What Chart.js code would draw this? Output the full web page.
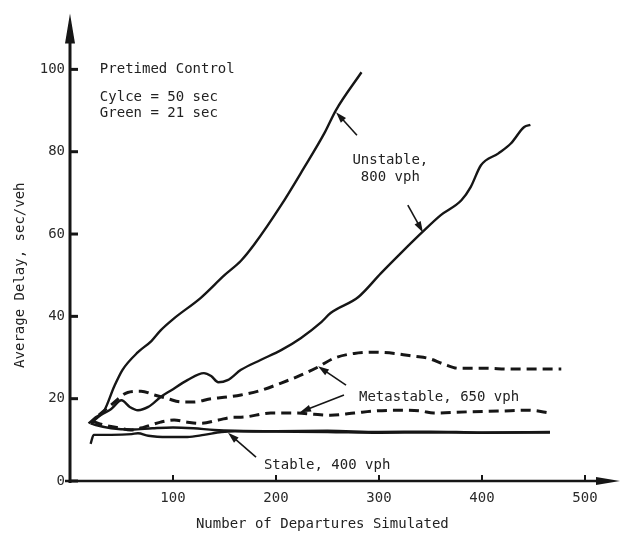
<!DOCTYPE html>
<html lang="en">
  <head>
    <meta charset="UTF-8">
    <title>Average Delay vs Number of Departures Simulated</title>
    <script src="https://cdn.jsdelivr.net/npm/chart.js"></script>
    <style>
      html, body { margin: 0; padding: 0; background: #fff; }
      #wrap { width: 625px; height: 534px; }
    </style>
  </head>
  <body>
    <div id="wrap"><canvas id="myChart"></canvas></div>
    <script>
      // Tick values
      const xTicks = [100, 200, 300, 400, 500];
      const yTicks = [0, 20, 40, 60, 80, 100];

      // Unstable, 800 vph (steep run)
      const unstableAX = [18, 25, 33, 43, 51, 66, 79, 88, 101, 127, 150, 166, 179, 205, 227, 247, 258, 283];
      const unstableAY = [14, 15.5, 17, 23, 27, 31.3, 34, 36.6, 39.5, 44.5, 50, 53.5, 57.5, 67, 76, 84.5, 90, 99.3];

      // Unstable, 800 vph (second run)
      const unstableBX = [20, 30, 40, 50, 58, 66, 76, 88, 98, 114, 130, 137, 144, 153, 166, 185, 205, 224, 244, 253, 280, 302, 321, 341, 360, 380, 389, 399, 416, 428, 441, 447];
      const unstableBY = [14, 16, 17.5, 19.6, 18, 17.2, 18, 20.4, 22, 24.5, 26.2, 25.5, 24, 24.5, 27, 29.4, 31.8, 34.7, 38.6, 40.8, 44.7, 50.5, 55.3, 60.2, 64.6, 68.2, 71.4, 76.7, 79.6, 82, 86, 86.5];

      // Metastable, 650 vph (upper run)
      const metaAX = [28, 40, 56, 69, 82, 95, 108, 120, 137, 153, 166, 185, 205, 224, 241, 256, 276, 295, 315, 334, 348, 363, 377, 402, 428, 451, 477];
      const metaAY = [16, 18.5, 21.5, 21.8, 20.9, 20, 19.2, 19.2, 20, 20.4, 20.9, 22, 23.8, 25.7, 27.7, 29.8, 31, 31.3, 31, 30.3, 29.8, 28.4, 27.4, 27.4, 27.2, 27.2, 27.2];

      // Metastable, 650 vph (lower run)
      const metaBX = [22, 33, 47, 59, 72, 88, 101, 114, 127, 144, 159, 166, 195, 221, 237, 253, 276, 295, 321, 341, 353, 386, 418, 445, 467];
      const metaBY = [14.5, 13.6, 12.9, 12.4, 13.1, 14.3, 14.8, 14.3, 14, 14.8, 15.5, 15.5, 16.5, 16.5, 16.2, 16, 16.5, 17, 17.2, 17, 16.5, 16.8, 17, 17.2, 16.5];

      // Stable, 400 vph (two runs)
      const stableAX = [20, 25, 40, 60, 80, 100, 120, 140, 160, 200, 250, 300, 350, 400, 466];
      const stableAY = [14, 13.6, 12.8, 12.5, 12.8, 13, 12.8, 12.4, 12.2, 12.1, 12.2, 11.9, 12, 11.8, 11.9];
      const stableBX = [20, 23, 40, 60, 66, 76, 95, 114, 130, 147, 160, 200, 250, 300, 350, 400, 466];
      const stableBY = [9, 11.2, 11.2, 11.4, 11.6, 11, 10.7, 10.7, 11.2, 11.9, 12.1, 12, 11.9, 11.7, 11.8, 11.7, 11.8];

      const ink = "#161616";
      const monoFont = '"DejaVu Sans Mono", "Liberation Mono", monospace';

      // text notes and pointer arrows, in data units
      const notes = [
        { text: "Pretimed Control", x: 29, y: 100, align: "left" },
        { text: "Cylce = 50 sec", x: 29, y: 93.2, align: "left" },
        { text: "Green = 21 sec", x: 29, y: 89.3, align: "left" },
        { text: "Unstable,", x: 311, y: 77.9, align: "center" },
        { text: "800 vph", x: 311, y: 73.8, align: "center" },
        { text: "Metastable, 650 vph", x: 280.6, y: 20.4, align: "left" },
        { text: "Stable, 400 vph", x: 188.3, y: 3.9, align: "left" }
      ];
      const pointers = [
        { from: [278.6, 84], to: [258.3, 89.6] },
        { from: [328, 67], to: [342.7, 60.4] },
        { from: [268, 23.3], to: [240.8, 27.9] },
        { from: [266, 20.9], to: [223.3, 16.7] },
        { from: [180.6, 5.8], to: [153.4, 11.7] }
      ];

      function pairs(xs, ys) {
        return xs.map((x, i) => ({ x: x, y: ys[i] }));
      }

      function series(label, xs, ys, dashed) {
        return {
          label: label,
          data: pairs(xs, ys),
          borderColor: ink,
          borderWidth: dashed ? 3 : 2.4,
          borderDash: dashed ? [10, 6] : [],
          pointRadius: 0,
          fill: false,
          cubicInterpolationMode: "monotone"
        };
      }

      function drawArrow(ctx, x1, y1, x2, y2, len, half) {
        const ang = Math.atan2(y2 - y1, x2 - x1);
        ctx.beginPath();
        ctx.moveTo(x1, y1);
        ctx.lineTo(x2 - Math.cos(ang) * len * 0.6, y2 - Math.sin(ang) * len * 0.6);
        ctx.stroke();
        ctx.beginPath();
        ctx.moveTo(x2, y2);
        ctx.lineTo(x2 - Math.cos(ang) * len + Math.sin(ang) * half, y2 - Math.sin(ang) * len - Math.cos(ang) * half);
        ctx.lineTo(x2 - Math.cos(ang) * len - Math.sin(ang) * half, y2 - Math.sin(ang) * len + Math.cos(ang) * half);
        ctx.closePath();
        ctx.fill();
      }

      // axis arrows, inward tick marks, notes and axis titles
      const decor = {
        id: "decor",
        afterDraw(chart) {
          const ctx = chart.ctx;
          const x = chart.scales.x;
          const y = chart.scales.y;
          const area = chart.chartArea;
          ctx.save();
          ctx.strokeStyle = ink;
          ctx.fillStyle = ink;

          // axis lines
          ctx.lineWidth = 3;
          ctx.beginPath();
          ctx.moveTo(area.left, area.bottom + 2);
          ctx.lineTo(area.left, area.top + 20);
          ctx.stroke();
          ctx.lineWidth = 2.5;
          ctx.beginPath();
          ctx.moveTo(area.left - 5, area.bottom);
          ctx.lineTo(area.right - 15, area.bottom);
          ctx.stroke();

          // arrow heads on the axes
          ctx.beginPath();
          ctx.moveTo(area.left, area.top);
          ctx.lineTo(area.left - 5, area.top + 30);
          ctx.lineTo(area.left + 5, area.top + 30);
          ctx.closePath();
          ctx.fill();
          ctx.beginPath();
          ctx.moveTo(area.right, area.bottom);
          ctx.lineTo(area.right - 24, area.bottom - 4);
          ctx.lineTo(area.right - 24, area.bottom + 4);
          ctx.closePath();
          ctx.fill();

          // tick marks pointing into the plot
          ctx.lineWidth = 3;
          yTicks.forEach(v => {
            const py = y.getPixelForValue(v);
            ctx.beginPath();
            ctx.moveTo(area.left, py);
            ctx.lineTo(area.left + 8, py);
            ctx.stroke();
          });
          ctx.lineWidth = 2;
          xTicks.forEach(v => {
            const px = x.getPixelForValue(v);
            ctx.beginPath();
            ctx.moveTo(px, area.bottom);
            ctx.lineTo(px, area.bottom - 6);
            ctx.stroke();
          });

          // notes
          ctx.font = "14px " + monoFont;
          ctx.textBaseline = "middle";
          ctx.fillStyle = "#222";
          notes.forEach(n => {
            ctx.textAlign = n.align;
            ctx.fillText(n.text, x.getPixelForValue(n.x), y.getPixelForValue(n.y));
          });

          // pointer arrows
          ctx.fillStyle = ink;
          ctx.lineWidth = 1.6;
          pointers.forEach(p => {
            drawArrow(ctx,
              x.getPixelForValue(p.from[0]), y.getPixelForValue(p.from[1]),
              x.getPixelForValue(p.to[0]), y.getPixelForValue(p.to[1]), 11, 3.5);
          });

          // axis titles
          ctx.fillStyle = "#222";
          ctx.textAlign = "center";
          ctx.fillText("Number of Departures Simulated", x.getPixelForValue(245), 524);
          ctx.translate(20, y.getPixelForValue(50));
          ctx.rotate(-Math.PI / 2);
          ctx.fillText("Average Delay, sec/veh", 0, 0);
          ctx.restore();
        }
      };

      function initChart() {
        const ctx = document.getElementById("myChart").getContext("2d");
        new Chart(ctx, {
          type: "line",
          data: {
            datasets: [
              series("Unstable, 800 vph", unstableAX, unstableAY, false),
              series("Unstable, 800 vph", unstableBX, unstableBY, false),
              series("Metastable, 650 vph", metaAX, metaAY, true),
              series("Metastable, 650 vph", metaBX, metaBY, true),
              series("Stable, 400 vph", stableAX, stableAY, false),
              series("Stable, 400 vph", stableBX, stableBY, false)
            ]
          },
          options: {
            responsive: true,
            maintainAspectRatio: false,
            animation: false,
            layout: { padding: { top: 13, right: 5, left: 0, bottom: 0 } },
            plugins: {
              legend: { display: false },
              tooltip: { enabled: false }
            },
            scales: {
              x: {
                type: "linear",
                min: 0,
                max: 534,
                afterBuildTicks: s => { s.ticks = xTicks.map(v => ({ value: v })); },
                afterFit: s => { s.height = 53; },
                grid: { display: false, drawTicks: false },
                border: { display: false },
                ticks: {
                  padding: 9,
                  color: "#2a2a2a",
                  font: { family: monoFont, size: 14 }
                }
              },
              y: {
                type: "linear",
                min: 0,
                max: 113.6,
                afterBuildTicks: s => { s.ticks = yTicks.map(v => ({ value: v })); },
                afterFit: s => { s.width = 70; },
                grid: { display: false, drawTicks: false },
                border: { display: false },
                ticks: {
                  padding: 5,
                  color: "#2a2a2a",
                  font: { family: monoFont, size: 14 }
                }
              }
            }
          },
          plugins: [decor]
        });
      }

      initChart();
    </script>
  </body>
</html>
